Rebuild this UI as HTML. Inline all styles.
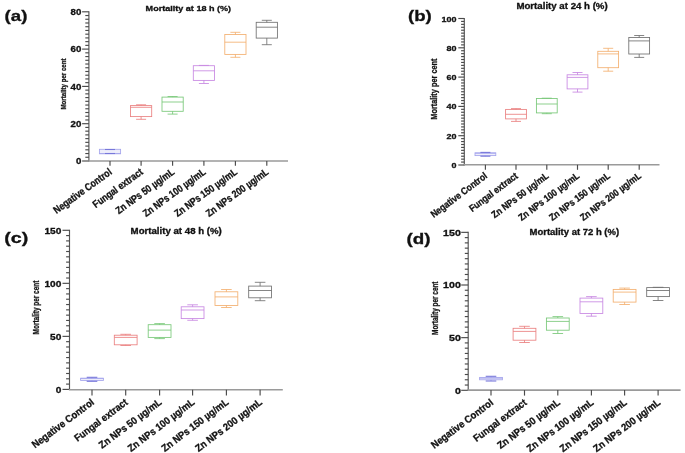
<!DOCTYPE html>
<html><head><meta charset="utf-8"><style>
html,body{margin:0;padding:0;background:#fff;width:685px;height:453px;overflow:hidden}
svg{display:block;filter:blur(0.35px)}
text{font-family:"Liberation Sans", sans-serif;stroke:#111;stroke-width:0.3px;paint-order:stroke}
</style></head><body>
<svg width="685" height="453" viewBox="0 0 685 453">
<rect width="685" height="453" fill="#fff"/>
<text x="4.60" y="21.40" font-size="15.00" text-anchor="start" font-weight="bold" fill="#111" textLength="22.80" lengthAdjust="spacingAndGlyphs">(a)</text>
<text x="145.60" y="11.40" font-size="7.80" text-anchor="start" font-weight="bold" fill="#111" textLength="85.50" lengthAdjust="spacingAndGlyphs">Mortality at 18 h (%)</text>
<line x1="88.90" y1="11.30" x2="88.90" y2="161.60" stroke="#555" stroke-width="1.15"/>
<line x1="82.10" y1="161.00" x2="88.90" y2="161.00" stroke="#4a4a4a" stroke-width="1.15"/>
<text x="81.40" y="164.19" font-size="8.40" text-anchor="end" font-weight="bold" fill="#111" textLength="5.40" lengthAdjust="spacingAndGlyphs">0</text>
<line x1="85.30" y1="157.27" x2="88.90" y2="157.27" stroke="#4a4a4a" stroke-width="1.15"/>
<line x1="85.30" y1="153.54" x2="88.90" y2="153.54" stroke="#4a4a4a" stroke-width="1.15"/>
<line x1="85.30" y1="149.81" x2="88.90" y2="149.81" stroke="#4a4a4a" stroke-width="1.15"/>
<line x1="85.30" y1="146.08" x2="88.90" y2="146.08" stroke="#4a4a4a" stroke-width="1.15"/>
<line x1="85.30" y1="142.35" x2="88.90" y2="142.35" stroke="#4a4a4a" stroke-width="1.15"/>
<line x1="85.30" y1="138.62" x2="88.90" y2="138.62" stroke="#4a4a4a" stroke-width="1.15"/>
<line x1="85.30" y1="134.89" x2="88.90" y2="134.89" stroke="#4a4a4a" stroke-width="1.15"/>
<line x1="85.30" y1="131.16" x2="88.90" y2="131.16" stroke="#4a4a4a" stroke-width="1.15"/>
<line x1="85.30" y1="127.43" x2="88.90" y2="127.43" stroke="#4a4a4a" stroke-width="1.15"/>
<line x1="82.10" y1="123.70" x2="88.90" y2="123.70" stroke="#4a4a4a" stroke-width="1.15"/>
<text x="81.40" y="126.89" font-size="8.40" text-anchor="end" font-weight="bold" fill="#111" textLength="10.80" lengthAdjust="spacingAndGlyphs">20</text>
<line x1="85.30" y1="119.97" x2="88.90" y2="119.97" stroke="#4a4a4a" stroke-width="1.15"/>
<line x1="85.30" y1="116.24" x2="88.90" y2="116.24" stroke="#4a4a4a" stroke-width="1.15"/>
<line x1="85.30" y1="112.51" x2="88.90" y2="112.51" stroke="#4a4a4a" stroke-width="1.15"/>
<line x1="85.30" y1="108.78" x2="88.90" y2="108.78" stroke="#4a4a4a" stroke-width="1.15"/>
<line x1="85.30" y1="105.05" x2="88.90" y2="105.05" stroke="#4a4a4a" stroke-width="1.15"/>
<line x1="85.30" y1="101.32" x2="88.90" y2="101.32" stroke="#4a4a4a" stroke-width="1.15"/>
<line x1="85.30" y1="97.59" x2="88.90" y2="97.59" stroke="#4a4a4a" stroke-width="1.15"/>
<line x1="85.30" y1="93.86" x2="88.90" y2="93.86" stroke="#4a4a4a" stroke-width="1.15"/>
<line x1="85.30" y1="90.13" x2="88.90" y2="90.13" stroke="#4a4a4a" stroke-width="1.15"/>
<line x1="82.10" y1="86.40" x2="88.90" y2="86.40" stroke="#4a4a4a" stroke-width="1.15"/>
<text x="81.40" y="89.59" font-size="8.40" text-anchor="end" font-weight="bold" fill="#111" textLength="10.80" lengthAdjust="spacingAndGlyphs">40</text>
<line x1="85.30" y1="82.67" x2="88.90" y2="82.67" stroke="#4a4a4a" stroke-width="1.15"/>
<line x1="85.30" y1="78.94" x2="88.90" y2="78.94" stroke="#4a4a4a" stroke-width="1.15"/>
<line x1="85.30" y1="75.21" x2="88.90" y2="75.21" stroke="#4a4a4a" stroke-width="1.15"/>
<line x1="85.30" y1="71.48" x2="88.90" y2="71.48" stroke="#4a4a4a" stroke-width="1.15"/>
<line x1="85.30" y1="67.75" x2="88.90" y2="67.75" stroke="#4a4a4a" stroke-width="1.15"/>
<line x1="85.30" y1="64.02" x2="88.90" y2="64.02" stroke="#4a4a4a" stroke-width="1.15"/>
<line x1="85.30" y1="60.29" x2="88.90" y2="60.29" stroke="#4a4a4a" stroke-width="1.15"/>
<line x1="85.30" y1="56.56" x2="88.90" y2="56.56" stroke="#4a4a4a" stroke-width="1.15"/>
<line x1="85.30" y1="52.83" x2="88.90" y2="52.83" stroke="#4a4a4a" stroke-width="1.15"/>
<line x1="82.10" y1="49.10" x2="88.90" y2="49.10" stroke="#4a4a4a" stroke-width="1.15"/>
<text x="81.40" y="52.29" font-size="8.40" text-anchor="end" font-weight="bold" fill="#111" textLength="10.80" lengthAdjust="spacingAndGlyphs">60</text>
<line x1="85.30" y1="45.37" x2="88.90" y2="45.37" stroke="#4a4a4a" stroke-width="1.15"/>
<line x1="85.30" y1="41.64" x2="88.90" y2="41.64" stroke="#4a4a4a" stroke-width="1.15"/>
<line x1="85.30" y1="37.91" x2="88.90" y2="37.91" stroke="#4a4a4a" stroke-width="1.15"/>
<line x1="85.30" y1="34.18" x2="88.90" y2="34.18" stroke="#4a4a4a" stroke-width="1.15"/>
<line x1="85.30" y1="30.45" x2="88.90" y2="30.45" stroke="#4a4a4a" stroke-width="1.15"/>
<line x1="85.30" y1="26.72" x2="88.90" y2="26.72" stroke="#4a4a4a" stroke-width="1.15"/>
<line x1="85.30" y1="22.99" x2="88.90" y2="22.99" stroke="#4a4a4a" stroke-width="1.15"/>
<line x1="85.30" y1="19.26" x2="88.90" y2="19.26" stroke="#4a4a4a" stroke-width="1.15"/>
<line x1="85.30" y1="15.53" x2="88.90" y2="15.53" stroke="#4a4a4a" stroke-width="1.15"/>
<line x1="82.10" y1="11.80" x2="88.90" y2="11.80" stroke="#4a4a4a" stroke-width="1.15"/>
<text x="81.40" y="14.99" font-size="8.40" text-anchor="end" font-weight="bold" fill="#111" textLength="10.80" lengthAdjust="spacingAndGlyphs">80</text>
<text x="65.90" y="109.50" font-size="7.60" text-anchor="start" font-weight="bold" fill="#111" textLength="51.00" lengthAdjust="spacingAndGlyphs" transform="rotate(-90 65.90 109.50)">Mortality per cent</text>
<line x1="88.30" y1="161.00" x2="288.00" y2="161.00" stroke="#9a9a9a" stroke-width="1.6"/>
<line x1="110.00" y1="161.00" x2="110.00" y2="165.80" stroke="#4a4a4a" stroke-width="1.15"/>
<text x="112.60" y="173.40" font-size="10.30" text-anchor="end" font-weight="bold" fill="#111" textLength="69.21" lengthAdjust="spacingAndGlyphs" transform="rotate(-36 112.60 173.40)">Negative Control</text>
<g stroke="#a4a4ec" stroke-width="0.85" fill="none"><rect x="99.40" y="149.30" width="21.20" height="4.50" fill="#eeeefa"/><line x1="99.40" y1="153.50" x2="120.60" y2="153.50"/><line x1="110.00" y1="149.50" x2="110.00" y2="149.30"/><line x1="110.00" y1="153.80" x2="110.00" y2="153.50"/><line x1="105.00" y1="149.50" x2="115.00" y2="149.50" stroke="#7878da" stroke-width="1.1"/><line x1="105.00" y1="153.50" x2="115.00" y2="153.50" stroke="#7878da" stroke-width="1.1"/></g>
<line x1="141.10" y1="161.00" x2="141.10" y2="165.80" stroke="#4a4a4a" stroke-width="1.15"/>
<text x="143.70" y="173.40" font-size="10.30" text-anchor="end" font-weight="bold" fill="#111" textLength="59.13" lengthAdjust="spacingAndGlyphs" transform="rotate(-36 143.70 173.40)">Fungal extract</text>
<g stroke="#ea8080" stroke-width="0.85" fill="none"><rect x="130.50" y="105.60" width="21.20" height="11.00" fill="none"/><line x1="130.50" y1="107.30" x2="151.70" y2="107.30"/><line x1="141.10" y1="104.80" x2="141.10" y2="105.60"/><line x1="141.10" y1="116.60" x2="141.10" y2="119.30"/><line x1="136.10" y1="104.80" x2="146.10" y2="104.80"/><line x1="136.10" y1="119.30" x2="146.10" y2="119.30"/></g>
<line x1="172.60" y1="161.00" x2="172.60" y2="165.80" stroke="#4a4a4a" stroke-width="1.15"/>
<text x="175.20" y="173.40" font-size="10.30" text-anchor="end" font-weight="bold" fill="#111" textLength="69.88" lengthAdjust="spacingAndGlyphs" transform="rotate(-36 175.20 173.40)">Zn NPs 50 µg/mL</text>
<g stroke="#78c878" stroke-width="0.85" fill="none"><rect x="162.00" y="97.10" width="21.20" height="14.20" fill="none"/><line x1="162.00" y1="102.00" x2="183.20" y2="102.00"/><line x1="172.60" y1="96.50" x2="172.60" y2="97.10"/><line x1="172.60" y1="111.30" x2="172.60" y2="114.10"/><line x1="167.60" y1="96.50" x2="177.60" y2="96.50"/><line x1="167.60" y1="114.10" x2="177.60" y2="114.10"/></g>
<line x1="203.90" y1="161.00" x2="203.90" y2="165.80" stroke="#4a4a4a" stroke-width="1.15"/>
<text x="206.50" y="173.40" font-size="10.30" text-anchor="end" font-weight="bold" fill="#111" textLength="74.69" lengthAdjust="spacingAndGlyphs" transform="rotate(-36 206.50 173.40)">Zn NPs 100 µg/mL</text>
<g stroke="#c888e2" stroke-width="0.85" fill="none"><rect x="193.30" y="65.70" width="21.20" height="14.70" fill="none"/><line x1="193.30" y1="70.80" x2="214.50" y2="70.80"/><line x1="203.90" y1="65.40" x2="203.90" y2="65.70"/><line x1="203.90" y1="80.40" x2="203.90" y2="83.50"/><line x1="198.90" y1="65.40" x2="208.90" y2="65.40"/><line x1="198.90" y1="83.50" x2="208.90" y2="83.50"/></g>
<line x1="235.40" y1="161.00" x2="235.40" y2="165.80" stroke="#4a4a4a" stroke-width="1.15"/>
<text x="238.00" y="173.40" font-size="10.30" text-anchor="end" font-weight="bold" fill="#111" textLength="74.69" lengthAdjust="spacingAndGlyphs" transform="rotate(-36 238.00 173.40)">Zn NPs 150 µg/mL</text>
<g stroke="#f3b070" stroke-width="0.85" fill="none"><rect x="224.80" y="34.50" width="21.20" height="19.90" fill="none"/><line x1="224.80" y1="42.20" x2="246.00" y2="42.20"/><line x1="235.40" y1="32.30" x2="235.40" y2="34.50"/><line x1="235.40" y1="54.40" x2="235.40" y2="57.30"/><line x1="230.40" y1="32.30" x2="240.40" y2="32.30"/><line x1="230.40" y1="57.30" x2="240.40" y2="57.30"/></g>
<line x1="266.80" y1="161.00" x2="266.80" y2="165.80" stroke="#4a4a4a" stroke-width="1.15"/>
<text x="269.40" y="173.40" font-size="10.30" text-anchor="end" font-weight="bold" fill="#111" textLength="74.69" lengthAdjust="spacingAndGlyphs" transform="rotate(-36 269.40 173.40)">Zn NPs 200 µg/mL</text>
<g stroke="#707070" stroke-width="0.85" fill="none"><rect x="256.20" y="22.30" width="21.20" height="15.80" fill="none"/><line x1="256.20" y1="27.20" x2="277.40" y2="27.20"/><line x1="266.80" y1="20.30" x2="266.80" y2="22.30"/><line x1="266.80" y1="38.10" x2="266.80" y2="44.70"/><line x1="261.80" y1="20.30" x2="271.80" y2="20.30"/><line x1="261.80" y1="44.70" x2="271.80" y2="44.70"/></g>
<text x="408.00" y="21.40" font-size="15.00" text-anchor="start" font-weight="bold" fill="#111" textLength="23.80" lengthAdjust="spacingAndGlyphs">(b)</text>
<text x="516.40" y="9.30" font-size="8.50" text-anchor="start" font-weight="bold" fill="#111" textLength="91.30" lengthAdjust="spacingAndGlyphs">Mortality at 24 h (%)</text>
<line x1="464.30" y1="18.00" x2="464.30" y2="165.60" stroke="#555" stroke-width="1.15"/>
<line x1="458.30" y1="165.00" x2="464.30" y2="165.00" stroke="#4a4a4a" stroke-width="1.15"/>
<text x="456.60" y="168.08" font-size="8.10" text-anchor="end" font-weight="bold" fill="#111" textLength="5.00" lengthAdjust="spacingAndGlyphs">0</text>
<line x1="461.10" y1="162.07" x2="464.30" y2="162.07" stroke="#4a4a4a" stroke-width="1.15"/>
<line x1="461.10" y1="159.14" x2="464.30" y2="159.14" stroke="#4a4a4a" stroke-width="1.15"/>
<line x1="461.10" y1="156.21" x2="464.30" y2="156.21" stroke="#4a4a4a" stroke-width="1.15"/>
<line x1="461.10" y1="153.28" x2="464.30" y2="153.28" stroke="#4a4a4a" stroke-width="1.15"/>
<line x1="461.10" y1="150.35" x2="464.30" y2="150.35" stroke="#4a4a4a" stroke-width="1.15"/>
<line x1="461.10" y1="147.42" x2="464.30" y2="147.42" stroke="#4a4a4a" stroke-width="1.15"/>
<line x1="461.10" y1="144.49" x2="464.30" y2="144.49" stroke="#4a4a4a" stroke-width="1.15"/>
<line x1="461.10" y1="141.56" x2="464.30" y2="141.56" stroke="#4a4a4a" stroke-width="1.15"/>
<line x1="461.10" y1="138.63" x2="464.30" y2="138.63" stroke="#4a4a4a" stroke-width="1.15"/>
<line x1="458.30" y1="135.70" x2="464.30" y2="135.70" stroke="#4a4a4a" stroke-width="1.15"/>
<text x="456.60" y="138.78" font-size="8.10" text-anchor="end" font-weight="bold" fill="#111" textLength="10.00" lengthAdjust="spacingAndGlyphs">20</text>
<line x1="461.10" y1="132.77" x2="464.30" y2="132.77" stroke="#4a4a4a" stroke-width="1.15"/>
<line x1="461.10" y1="129.84" x2="464.30" y2="129.84" stroke="#4a4a4a" stroke-width="1.15"/>
<line x1="461.10" y1="126.91" x2="464.30" y2="126.91" stroke="#4a4a4a" stroke-width="1.15"/>
<line x1="461.10" y1="123.98" x2="464.30" y2="123.98" stroke="#4a4a4a" stroke-width="1.15"/>
<line x1="461.10" y1="121.05" x2="464.30" y2="121.05" stroke="#4a4a4a" stroke-width="1.15"/>
<line x1="461.10" y1="118.12" x2="464.30" y2="118.12" stroke="#4a4a4a" stroke-width="1.15"/>
<line x1="461.10" y1="115.19" x2="464.30" y2="115.19" stroke="#4a4a4a" stroke-width="1.15"/>
<line x1="461.10" y1="112.26" x2="464.30" y2="112.26" stroke="#4a4a4a" stroke-width="1.15"/>
<line x1="461.10" y1="109.33" x2="464.30" y2="109.33" stroke="#4a4a4a" stroke-width="1.15"/>
<line x1="458.30" y1="106.40" x2="464.30" y2="106.40" stroke="#4a4a4a" stroke-width="1.15"/>
<text x="456.60" y="109.48" font-size="8.10" text-anchor="end" font-weight="bold" fill="#111" textLength="10.00" lengthAdjust="spacingAndGlyphs">40</text>
<line x1="461.10" y1="103.47" x2="464.30" y2="103.47" stroke="#4a4a4a" stroke-width="1.15"/>
<line x1="461.10" y1="100.54" x2="464.30" y2="100.54" stroke="#4a4a4a" stroke-width="1.15"/>
<line x1="461.10" y1="97.61" x2="464.30" y2="97.61" stroke="#4a4a4a" stroke-width="1.15"/>
<line x1="461.10" y1="94.68" x2="464.30" y2="94.68" stroke="#4a4a4a" stroke-width="1.15"/>
<line x1="461.10" y1="91.75" x2="464.30" y2="91.75" stroke="#4a4a4a" stroke-width="1.15"/>
<line x1="461.10" y1="88.82" x2="464.30" y2="88.82" stroke="#4a4a4a" stroke-width="1.15"/>
<line x1="461.10" y1="85.89" x2="464.30" y2="85.89" stroke="#4a4a4a" stroke-width="1.15"/>
<line x1="461.10" y1="82.96" x2="464.30" y2="82.96" stroke="#4a4a4a" stroke-width="1.15"/>
<line x1="461.10" y1="80.03" x2="464.30" y2="80.03" stroke="#4a4a4a" stroke-width="1.15"/>
<line x1="458.30" y1="77.10" x2="464.30" y2="77.10" stroke="#4a4a4a" stroke-width="1.15"/>
<text x="456.60" y="80.18" font-size="8.10" text-anchor="end" font-weight="bold" fill="#111" textLength="10.00" lengthAdjust="spacingAndGlyphs">60</text>
<line x1="461.10" y1="74.17" x2="464.30" y2="74.17" stroke="#4a4a4a" stroke-width="1.15"/>
<line x1="461.10" y1="71.24" x2="464.30" y2="71.24" stroke="#4a4a4a" stroke-width="1.15"/>
<line x1="461.10" y1="68.31" x2="464.30" y2="68.31" stroke="#4a4a4a" stroke-width="1.15"/>
<line x1="461.10" y1="65.38" x2="464.30" y2="65.38" stroke="#4a4a4a" stroke-width="1.15"/>
<line x1="461.10" y1="62.45" x2="464.30" y2="62.45" stroke="#4a4a4a" stroke-width="1.15"/>
<line x1="461.10" y1="59.52" x2="464.30" y2="59.52" stroke="#4a4a4a" stroke-width="1.15"/>
<line x1="461.10" y1="56.59" x2="464.30" y2="56.59" stroke="#4a4a4a" stroke-width="1.15"/>
<line x1="461.10" y1="53.66" x2="464.30" y2="53.66" stroke="#4a4a4a" stroke-width="1.15"/>
<line x1="461.10" y1="50.73" x2="464.30" y2="50.73" stroke="#4a4a4a" stroke-width="1.15"/>
<line x1="458.30" y1="47.80" x2="464.30" y2="47.80" stroke="#4a4a4a" stroke-width="1.15"/>
<text x="456.60" y="50.88" font-size="8.10" text-anchor="end" font-weight="bold" fill="#111" textLength="10.00" lengthAdjust="spacingAndGlyphs">80</text>
<line x1="461.10" y1="44.87" x2="464.30" y2="44.87" stroke="#4a4a4a" stroke-width="1.15"/>
<line x1="461.10" y1="41.94" x2="464.30" y2="41.94" stroke="#4a4a4a" stroke-width="1.15"/>
<line x1="461.10" y1="39.01" x2="464.30" y2="39.01" stroke="#4a4a4a" stroke-width="1.15"/>
<line x1="461.10" y1="36.08" x2="464.30" y2="36.08" stroke="#4a4a4a" stroke-width="1.15"/>
<line x1="461.10" y1="33.15" x2="464.30" y2="33.15" stroke="#4a4a4a" stroke-width="1.15"/>
<line x1="461.10" y1="30.22" x2="464.30" y2="30.22" stroke="#4a4a4a" stroke-width="1.15"/>
<line x1="461.10" y1="27.29" x2="464.30" y2="27.29" stroke="#4a4a4a" stroke-width="1.15"/>
<line x1="461.10" y1="24.36" x2="464.30" y2="24.36" stroke="#4a4a4a" stroke-width="1.15"/>
<line x1="461.10" y1="21.43" x2="464.30" y2="21.43" stroke="#4a4a4a" stroke-width="1.15"/>
<line x1="458.30" y1="18.50" x2="464.30" y2="18.50" stroke="#4a4a4a" stroke-width="1.15"/>
<text x="456.60" y="21.58" font-size="8.10" text-anchor="end" font-weight="bold" fill="#111" textLength="15.00" lengthAdjust="spacingAndGlyphs">100</text>
<text x="436.70" y="119.70" font-size="9.60" text-anchor="start" font-weight="bold" fill="#111" textLength="61.20" lengthAdjust="spacingAndGlyphs" transform="rotate(-90 436.70 119.70)">Mortality per cent</text>
<line x1="463.70" y1="164.80" x2="659.50" y2="164.80" stroke="#9a9a9a" stroke-width="1.6"/>
<line x1="485.40" y1="164.80" x2="485.40" y2="169.80" stroke="#4a4a4a" stroke-width="1.15"/>
<text x="488.00" y="177.20" font-size="9.70" text-anchor="end" font-weight="bold" fill="#111" textLength="68.01" lengthAdjust="spacingAndGlyphs" transform="rotate(-37 488.00 177.20)">Negative Control</text>
<g stroke="#a4a4ec" stroke-width="0.85" fill="none"><rect x="475.00" y="152.80" width="20.80" height="2.80" fill="#eeeefa"/><line x1="475.00" y1="153.30" x2="495.80" y2="153.30"/><line x1="485.40" y1="152.40" x2="485.40" y2="152.80"/><line x1="485.40" y1="155.60" x2="485.40" y2="156.20"/><line x1="480.40" y1="152.40" x2="490.40" y2="152.40" stroke="#7878da" stroke-width="1.1"/><line x1="480.40" y1="156.20" x2="490.40" y2="156.20" stroke="#7878da" stroke-width="1.1"/></g>
<line x1="516.00" y1="164.80" x2="516.00" y2="169.80" stroke="#4a4a4a" stroke-width="1.15"/>
<text x="518.60" y="177.20" font-size="9.70" text-anchor="end" font-weight="bold" fill="#111" textLength="58.11" lengthAdjust="spacingAndGlyphs" transform="rotate(-37 518.60 177.20)">Fungal extract</text>
<g stroke="#ea8080" stroke-width="0.85" fill="none"><rect x="505.60" y="109.40" width="20.80" height="9.50" fill="none"/><line x1="505.60" y1="114.30" x2="526.40" y2="114.30"/><line x1="516.00" y1="108.60" x2="516.00" y2="109.40"/><line x1="516.00" y1="118.90" x2="516.00" y2="121.40"/><line x1="511.00" y1="108.60" x2="521.00" y2="108.60"/><line x1="511.00" y1="121.40" x2="521.00" y2="121.40"/></g>
<line x1="546.80" y1="164.80" x2="546.80" y2="169.80" stroke="#4a4a4a" stroke-width="1.15"/>
<text x="549.40" y="177.20" font-size="9.70" text-anchor="end" font-weight="bold" fill="#111" textLength="68.66" lengthAdjust="spacingAndGlyphs" transform="rotate(-37 549.40 177.20)">Zn NPs 50 µg/mL</text>
<g stroke="#78c878" stroke-width="0.85" fill="none"><rect x="536.40" y="98.50" width="20.80" height="14.40" fill="none"/><line x1="536.40" y1="104.00" x2="557.20" y2="104.00"/><line x1="546.80" y1="98.20" x2="546.80" y2="98.50"/><line x1="546.80" y1="112.90" x2="546.80" y2="113.70"/><line x1="541.80" y1="98.20" x2="551.80" y2="98.20"/><line x1="541.80" y1="113.70" x2="551.80" y2="113.70"/></g>
<line x1="577.50" y1="164.80" x2="577.50" y2="169.80" stroke="#4a4a4a" stroke-width="1.15"/>
<text x="580.10" y="177.20" font-size="9.70" text-anchor="end" font-weight="bold" fill="#111" textLength="73.39" lengthAdjust="spacingAndGlyphs" transform="rotate(-37 580.10 177.20)">Zn NPs 100 µg/mL</text>
<g stroke="#c888e2" stroke-width="0.85" fill="none"><rect x="567.10" y="74.80" width="20.80" height="14.10" fill="none"/><line x1="567.10" y1="77.40" x2="587.90" y2="77.40"/><line x1="577.50" y1="72.50" x2="577.50" y2="74.80"/><line x1="577.50" y1="88.90" x2="577.50" y2="92.10"/><line x1="572.50" y1="72.50" x2="582.50" y2="72.50"/><line x1="572.50" y1="92.10" x2="582.50" y2="92.10"/></g>
<line x1="608.20" y1="164.80" x2="608.20" y2="169.80" stroke="#4a4a4a" stroke-width="1.15"/>
<text x="610.80" y="177.20" font-size="9.70" text-anchor="end" font-weight="bold" fill="#111" textLength="73.39" lengthAdjust="spacingAndGlyphs" transform="rotate(-37 610.80 177.20)">Zn NPs 150 µg/mL</text>
<g stroke="#f3b070" stroke-width="0.85" fill="none"><rect x="597.80" y="51.30" width="20.80" height="16.40" fill="none"/><line x1="597.80" y1="53.90" x2="618.60" y2="53.90"/><line x1="608.20" y1="48.30" x2="608.20" y2="51.30"/><line x1="608.20" y1="67.70" x2="608.20" y2="71.20"/><line x1="603.20" y1="48.30" x2="613.20" y2="48.30"/><line x1="603.20" y1="71.20" x2="613.20" y2="71.20"/></g>
<line x1="639.20" y1="164.80" x2="639.20" y2="169.80" stroke="#4a4a4a" stroke-width="1.15"/>
<text x="641.80" y="177.20" font-size="9.70" text-anchor="end" font-weight="bold" fill="#111" textLength="73.39" lengthAdjust="spacingAndGlyphs" transform="rotate(-37 641.80 177.20)">Zn NPs 200 µg/mL</text>
<g stroke="#707070" stroke-width="0.85" fill="none"><rect x="628.80" y="37.50" width="20.80" height="16.50" fill="none"/><line x1="628.80" y1="40.90" x2="649.60" y2="40.90"/><line x1="639.20" y1="35.50" x2="639.20" y2="37.50"/><line x1="639.20" y1="54.00" x2="639.20" y2="57.40"/><line x1="634.20" y1="35.50" x2="644.20" y2="35.50"/><line x1="634.20" y1="57.40" x2="644.20" y2="57.40"/></g>
<text x="4.20" y="243.20" font-size="15.00" text-anchor="start" font-weight="bold" fill="#111" textLength="24.00" lengthAdjust="spacingAndGlyphs">(c)</text>
<text x="130.60" y="233.60" font-size="8.30" text-anchor="start" font-weight="bold" fill="#111" textLength="91.20" lengthAdjust="spacingAndGlyphs">Mortality at 48 h (%)</text>
<line x1="69.50" y1="229.79" x2="69.50" y2="390.00" stroke="#555" stroke-width="1.15"/>
<line x1="62.50" y1="389.40" x2="69.50" y2="389.40" stroke="#4a4a4a" stroke-width="1.15"/>
<text x="61.40" y="392.71" font-size="8.70" text-anchor="end" font-weight="bold" fill="#111" textLength="5.65" lengthAdjust="spacingAndGlyphs">0</text>
<line x1="66.10" y1="384.10" x2="69.50" y2="384.10" stroke="#4a4a4a" stroke-width="1.15"/>
<line x1="66.10" y1="378.79" x2="69.50" y2="378.79" stroke="#4a4a4a" stroke-width="1.15"/>
<line x1="66.10" y1="373.49" x2="69.50" y2="373.49" stroke="#4a4a4a" stroke-width="1.15"/>
<line x1="66.10" y1="368.19" x2="69.50" y2="368.19" stroke="#4a4a4a" stroke-width="1.15"/>
<line x1="66.10" y1="362.88" x2="69.50" y2="362.88" stroke="#4a4a4a" stroke-width="1.15"/>
<line x1="66.10" y1="357.58" x2="69.50" y2="357.58" stroke="#4a4a4a" stroke-width="1.15"/>
<line x1="66.10" y1="352.28" x2="69.50" y2="352.28" stroke="#4a4a4a" stroke-width="1.15"/>
<line x1="66.10" y1="346.97" x2="69.50" y2="346.97" stroke="#4a4a4a" stroke-width="1.15"/>
<line x1="66.10" y1="341.67" x2="69.50" y2="341.67" stroke="#4a4a4a" stroke-width="1.15"/>
<line x1="62.50" y1="336.37" x2="69.50" y2="336.37" stroke="#4a4a4a" stroke-width="1.15"/>
<text x="61.40" y="339.67" font-size="8.70" text-anchor="end" font-weight="bold" fill="#111" textLength="11.30" lengthAdjust="spacingAndGlyphs">50</text>
<line x1="66.10" y1="331.06" x2="69.50" y2="331.06" stroke="#4a4a4a" stroke-width="1.15"/>
<line x1="66.10" y1="325.76" x2="69.50" y2="325.76" stroke="#4a4a4a" stroke-width="1.15"/>
<line x1="66.10" y1="320.45" x2="69.50" y2="320.45" stroke="#4a4a4a" stroke-width="1.15"/>
<line x1="66.10" y1="315.15" x2="69.50" y2="315.15" stroke="#4a4a4a" stroke-width="1.15"/>
<line x1="66.10" y1="309.85" x2="69.50" y2="309.85" stroke="#4a4a4a" stroke-width="1.15"/>
<line x1="66.10" y1="304.54" x2="69.50" y2="304.54" stroke="#4a4a4a" stroke-width="1.15"/>
<line x1="66.10" y1="299.24" x2="69.50" y2="299.24" stroke="#4a4a4a" stroke-width="1.15"/>
<line x1="66.10" y1="293.94" x2="69.50" y2="293.94" stroke="#4a4a4a" stroke-width="1.15"/>
<line x1="66.10" y1="288.63" x2="69.50" y2="288.63" stroke="#4a4a4a" stroke-width="1.15"/>
<line x1="62.50" y1="283.33" x2="69.50" y2="283.33" stroke="#4a4a4a" stroke-width="1.15"/>
<text x="61.40" y="286.64" font-size="8.70" text-anchor="end" font-weight="bold" fill="#111" textLength="16.95" lengthAdjust="spacingAndGlyphs">100</text>
<line x1="66.10" y1="278.03" x2="69.50" y2="278.03" stroke="#4a4a4a" stroke-width="1.15"/>
<line x1="66.10" y1="272.72" x2="69.50" y2="272.72" stroke="#4a4a4a" stroke-width="1.15"/>
<line x1="66.10" y1="267.42" x2="69.50" y2="267.42" stroke="#4a4a4a" stroke-width="1.15"/>
<line x1="66.10" y1="262.12" x2="69.50" y2="262.12" stroke="#4a4a4a" stroke-width="1.15"/>
<line x1="66.10" y1="256.81" x2="69.50" y2="256.81" stroke="#4a4a4a" stroke-width="1.15"/>
<line x1="66.10" y1="251.51" x2="69.50" y2="251.51" stroke="#4a4a4a" stroke-width="1.15"/>
<line x1="66.10" y1="246.21" x2="69.50" y2="246.21" stroke="#4a4a4a" stroke-width="1.15"/>
<line x1="66.10" y1="240.90" x2="69.50" y2="240.90" stroke="#4a4a4a" stroke-width="1.15"/>
<line x1="66.10" y1="235.60" x2="69.50" y2="235.60" stroke="#4a4a4a" stroke-width="1.15"/>
<line x1="62.50" y1="230.29" x2="69.50" y2="230.29" stroke="#4a4a4a" stroke-width="1.15"/>
<text x="61.40" y="233.60" font-size="8.70" text-anchor="end" font-weight="bold" fill="#111" textLength="16.95" lengthAdjust="spacingAndGlyphs">150</text>
<text x="39.10" y="334.40" font-size="9.00" text-anchor="start" font-weight="bold" fill="#111" textLength="53.80" lengthAdjust="spacingAndGlyphs" transform="rotate(-90 39.10 334.40)">Mortality per cent</text>
<line x1="68.90" y1="389.80" x2="282.80" y2="389.80" stroke="#9a9a9a" stroke-width="1.6"/>
<line x1="92.00" y1="389.80" x2="92.00" y2="395.40" stroke="#4a4a4a" stroke-width="1.15"/>
<text x="94.80" y="403.60" font-size="10.20" text-anchor="end" font-weight="bold" fill="#111" textLength="74.81" lengthAdjust="spacingAndGlyphs" transform="rotate(-37 94.80 403.60)">Negative Control</text>
<g stroke="#a4a4ec" stroke-width="0.85" fill="none"><rect x="80.60" y="378.30" width="22.80" height="2.10" fill="#eeeefa"/><line x1="80.60" y1="378.30" x2="103.40" y2="378.30"/><line x1="92.00" y1="377.30" x2="92.00" y2="378.30"/><line x1="92.00" y1="380.40" x2="92.00" y2="381.30"/><line x1="86.70" y1="377.30" x2="97.30" y2="377.30" stroke="#7878da" stroke-width="1.1"/><line x1="86.70" y1="381.30" x2="97.30" y2="381.30" stroke="#7878da" stroke-width="1.1"/></g>
<line x1="125.70" y1="389.80" x2="125.70" y2="395.40" stroke="#4a4a4a" stroke-width="1.15"/>
<text x="128.50" y="403.60" font-size="10.20" text-anchor="end" font-weight="bold" fill="#111" textLength="63.92" lengthAdjust="spacingAndGlyphs" transform="rotate(-37 128.50 403.60)">Fungal extract</text>
<g stroke="#ea8080" stroke-width="0.85" fill="none"><rect x="114.30" y="335.20" width="22.80" height="9.60" fill="none"/><line x1="114.30" y1="337.40" x2="137.10" y2="337.40"/><line x1="125.70" y1="334.30" x2="125.70" y2="335.20"/><line x1="125.70" y1="344.80" x2="125.70" y2="345.50"/><line x1="120.40" y1="334.30" x2="131.00" y2="334.30"/><line x1="120.40" y1="345.50" x2="131.00" y2="345.50"/></g>
<line x1="159.60" y1="389.80" x2="159.60" y2="395.40" stroke="#4a4a4a" stroke-width="1.15"/>
<text x="162.40" y="403.60" font-size="10.20" text-anchor="end" font-weight="bold" fill="#111" textLength="75.53" lengthAdjust="spacingAndGlyphs" transform="rotate(-37 162.40 403.60)">Zn NPs 50 µg/mL</text>
<g stroke="#78c878" stroke-width="0.85" fill="none"><rect x="148.20" y="324.70" width="22.80" height="12.70" fill="none"/><line x1="148.20" y1="330.10" x2="171.00" y2="330.10"/><line x1="159.60" y1="323.60" x2="159.60" y2="324.70"/><line x1="159.60" y1="337.40" x2="159.60" y2="338.60"/><line x1="154.30" y1="323.60" x2="164.90" y2="323.60"/><line x1="154.30" y1="338.60" x2="164.90" y2="338.60"/></g>
<line x1="192.60" y1="389.80" x2="192.60" y2="395.40" stroke="#4a4a4a" stroke-width="1.15"/>
<text x="195.40" y="403.60" font-size="10.20" text-anchor="end" font-weight="bold" fill="#111" textLength="80.73" lengthAdjust="spacingAndGlyphs" transform="rotate(-37 195.40 403.60)">Zn NPs 100 µg/mL</text>
<g stroke="#c888e2" stroke-width="0.85" fill="none"><rect x="181.20" y="306.80" width="22.80" height="11.80" fill="none"/><line x1="181.20" y1="310.00" x2="204.00" y2="310.00"/><line x1="192.60" y1="304.80" x2="192.60" y2="306.80"/><line x1="192.60" y1="318.60" x2="192.60" y2="320.30"/><line x1="187.30" y1="304.80" x2="197.90" y2="304.80"/><line x1="187.30" y1="320.30" x2="197.90" y2="320.30"/></g>
<line x1="226.40" y1="389.80" x2="226.40" y2="395.40" stroke="#4a4a4a" stroke-width="1.15"/>
<text x="229.20" y="403.60" font-size="10.20" text-anchor="end" font-weight="bold" fill="#111" textLength="80.73" lengthAdjust="spacingAndGlyphs" transform="rotate(-37 229.20 403.60)">Zn NPs 150 µg/mL</text>
<g stroke="#f3b070" stroke-width="0.85" fill="none"><rect x="215.00" y="291.80" width="22.80" height="13.70" fill="none"/><line x1="215.00" y1="296.90" x2="237.80" y2="296.90"/><line x1="226.40" y1="289.50" x2="226.40" y2="291.80"/><line x1="226.40" y1="305.50" x2="226.40" y2="307.50"/><line x1="221.10" y1="289.50" x2="231.70" y2="289.50"/><line x1="221.10" y1="307.50" x2="231.70" y2="307.50"/></g>
<line x1="260.10" y1="389.80" x2="260.10" y2="395.40" stroke="#4a4a4a" stroke-width="1.15"/>
<text x="262.90" y="403.60" font-size="10.20" text-anchor="end" font-weight="bold" fill="#111" textLength="80.73" lengthAdjust="spacingAndGlyphs" transform="rotate(-37 262.90 403.60)">Zn NPs 200 µg/mL</text>
<g stroke="#707070" stroke-width="0.85" fill="none"><rect x="248.70" y="286.10" width="22.80" height="11.70" fill="none"/><line x1="248.70" y1="290.50" x2="271.50" y2="290.50"/><line x1="260.10" y1="282.30" x2="260.10" y2="286.10"/><line x1="260.10" y1="297.80" x2="260.10" y2="300.70"/><line x1="254.80" y1="282.30" x2="265.40" y2="282.30"/><line x1="254.80" y1="300.70" x2="265.40" y2="300.70"/></g>
<text x="406.50" y="243.80" font-size="15.00" text-anchor="start" font-weight="bold" fill="#111" textLength="24.00" lengthAdjust="spacingAndGlyphs">(d)</text>
<text x="529.50" y="235.20" font-size="8.30" text-anchor="start" font-weight="bold" fill="#111" textLength="89.60" lengthAdjust="spacingAndGlyphs">Mortality at 72 h (%)</text>
<line x1="468.20" y1="231.85" x2="468.20" y2="390.90" stroke="#555" stroke-width="1.15"/>
<line x1="461.20" y1="390.30" x2="468.20" y2="390.30" stroke="#4a4a4a" stroke-width="1.15"/>
<text x="460.80" y="393.61" font-size="8.70" text-anchor="end" font-weight="bold" fill="#111" textLength="5.90" lengthAdjust="spacingAndGlyphs">0</text>
<line x1="464.80" y1="385.04" x2="468.20" y2="385.04" stroke="#4a4a4a" stroke-width="1.15"/>
<line x1="464.80" y1="379.77" x2="468.20" y2="379.77" stroke="#4a4a4a" stroke-width="1.15"/>
<line x1="464.80" y1="374.50" x2="468.20" y2="374.50" stroke="#4a4a4a" stroke-width="1.15"/>
<line x1="464.80" y1="369.24" x2="468.20" y2="369.24" stroke="#4a4a4a" stroke-width="1.15"/>
<line x1="464.80" y1="363.98" x2="468.20" y2="363.98" stroke="#4a4a4a" stroke-width="1.15"/>
<line x1="464.80" y1="358.71" x2="468.20" y2="358.71" stroke="#4a4a4a" stroke-width="1.15"/>
<line x1="464.80" y1="353.44" x2="468.20" y2="353.44" stroke="#4a4a4a" stroke-width="1.15"/>
<line x1="464.80" y1="348.18" x2="468.20" y2="348.18" stroke="#4a4a4a" stroke-width="1.15"/>
<line x1="464.80" y1="342.92" x2="468.20" y2="342.92" stroke="#4a4a4a" stroke-width="1.15"/>
<line x1="461.20" y1="337.65" x2="468.20" y2="337.65" stroke="#4a4a4a" stroke-width="1.15"/>
<text x="460.80" y="340.96" font-size="8.70" text-anchor="end" font-weight="bold" fill="#111" textLength="11.80" lengthAdjust="spacingAndGlyphs">50</text>
<line x1="464.80" y1="332.38" x2="468.20" y2="332.38" stroke="#4a4a4a" stroke-width="1.15"/>
<line x1="464.80" y1="327.12" x2="468.20" y2="327.12" stroke="#4a4a4a" stroke-width="1.15"/>
<line x1="464.80" y1="321.86" x2="468.20" y2="321.86" stroke="#4a4a4a" stroke-width="1.15"/>
<line x1="464.80" y1="316.59" x2="468.20" y2="316.59" stroke="#4a4a4a" stroke-width="1.15"/>
<line x1="464.80" y1="311.33" x2="468.20" y2="311.33" stroke="#4a4a4a" stroke-width="1.15"/>
<line x1="464.80" y1="306.06" x2="468.20" y2="306.06" stroke="#4a4a4a" stroke-width="1.15"/>
<line x1="464.80" y1="300.80" x2="468.20" y2="300.80" stroke="#4a4a4a" stroke-width="1.15"/>
<line x1="464.80" y1="295.53" x2="468.20" y2="295.53" stroke="#4a4a4a" stroke-width="1.15"/>
<line x1="464.80" y1="290.26" x2="468.20" y2="290.26" stroke="#4a4a4a" stroke-width="1.15"/>
<line x1="461.20" y1="285.00" x2="468.20" y2="285.00" stroke="#4a4a4a" stroke-width="1.15"/>
<text x="460.80" y="288.31" font-size="8.70" text-anchor="end" font-weight="bold" fill="#111" textLength="17.70" lengthAdjust="spacingAndGlyphs">100</text>
<line x1="464.80" y1="279.74" x2="468.20" y2="279.74" stroke="#4a4a4a" stroke-width="1.15"/>
<line x1="464.80" y1="274.47" x2="468.20" y2="274.47" stroke="#4a4a4a" stroke-width="1.15"/>
<line x1="464.80" y1="269.21" x2="468.20" y2="269.21" stroke="#4a4a4a" stroke-width="1.15"/>
<line x1="464.80" y1="263.94" x2="468.20" y2="263.94" stroke="#4a4a4a" stroke-width="1.15"/>
<line x1="464.80" y1="258.68" x2="468.20" y2="258.68" stroke="#4a4a4a" stroke-width="1.15"/>
<line x1="464.80" y1="253.41" x2="468.20" y2="253.41" stroke="#4a4a4a" stroke-width="1.15"/>
<line x1="464.80" y1="248.15" x2="468.20" y2="248.15" stroke="#4a4a4a" stroke-width="1.15"/>
<line x1="464.80" y1="242.88" x2="468.20" y2="242.88" stroke="#4a4a4a" stroke-width="1.15"/>
<line x1="464.80" y1="237.62" x2="468.20" y2="237.62" stroke="#4a4a4a" stroke-width="1.15"/>
<line x1="461.20" y1="232.35" x2="468.20" y2="232.35" stroke="#4a4a4a" stroke-width="1.15"/>
<text x="460.80" y="235.66" font-size="8.70" text-anchor="end" font-weight="bold" fill="#111" textLength="17.70" lengthAdjust="spacingAndGlyphs">150</text>
<text x="438.30" y="334.90" font-size="9.00" text-anchor="start" font-weight="bold" fill="#111" textLength="53.40" lengthAdjust="spacingAndGlyphs" transform="rotate(-90 438.30 334.90)">Mortality per cent</text>
<line x1="467.60" y1="390.10" x2="680.60" y2="390.10" stroke="#9a9a9a" stroke-width="1.6"/>
<line x1="491.00" y1="390.10" x2="491.00" y2="395.60" stroke="#4a4a4a" stroke-width="1.15"/>
<text x="494.00" y="403.90" font-size="10.20" text-anchor="end" font-weight="bold" fill="#111" textLength="74.81" lengthAdjust="spacingAndGlyphs" transform="rotate(-37 494.00 403.90)">Negative Control</text>
<g stroke="#a4a4ec" stroke-width="0.85" fill="none"><rect x="479.60" y="377.40" width="22.80" height="2.40" fill="#eeeefa"/><line x1="479.60" y1="378.20" x2="502.40" y2="378.20"/><line x1="491.00" y1="376.30" x2="491.00" y2="377.40"/><line x1="491.00" y1="379.80" x2="491.00" y2="381.00"/><line x1="485.70" y1="376.30" x2="496.30" y2="376.30" stroke="#7878da" stroke-width="1.1"/><line x1="485.70" y1="381.00" x2="496.30" y2="381.00" stroke="#7878da" stroke-width="1.1"/></g>
<line x1="524.50" y1="390.10" x2="524.50" y2="395.60" stroke="#4a4a4a" stroke-width="1.15"/>
<text x="527.50" y="403.90" font-size="10.20" text-anchor="end" font-weight="bold" fill="#111" textLength="63.92" lengthAdjust="spacingAndGlyphs" transform="rotate(-37 527.50 403.90)">Fungal extract</text>
<g stroke="#ea8080" stroke-width="0.85" fill="none"><rect x="513.10" y="328.30" width="22.80" height="11.90" fill="none"/><line x1="513.10" y1="331.40" x2="535.90" y2="331.40"/><line x1="524.50" y1="326.30" x2="524.50" y2="328.30"/><line x1="524.50" y1="340.20" x2="524.50" y2="342.50"/><line x1="519.20" y1="326.30" x2="529.80" y2="326.30"/><line x1="519.20" y1="342.50" x2="529.80" y2="342.50"/></g>
<line x1="557.80" y1="390.10" x2="557.80" y2="395.60" stroke="#4a4a4a" stroke-width="1.15"/>
<text x="560.80" y="403.90" font-size="10.20" text-anchor="end" font-weight="bold" fill="#111" textLength="75.53" lengthAdjust="spacingAndGlyphs" transform="rotate(-37 560.80 403.90)">Zn NPs 50 µg/mL</text>
<g stroke="#78c878" stroke-width="0.85" fill="none"><rect x="546.40" y="318.00" width="22.80" height="12.20" fill="none"/><line x1="546.40" y1="321.40" x2="569.20" y2="321.40"/><line x1="557.80" y1="316.60" x2="557.80" y2="318.00"/><line x1="557.80" y1="330.20" x2="557.80" y2="333.50"/><line x1="552.50" y1="316.60" x2="563.10" y2="316.60"/><line x1="552.50" y1="333.50" x2="563.10" y2="333.50"/></g>
<line x1="591.40" y1="390.10" x2="591.40" y2="395.60" stroke="#4a4a4a" stroke-width="1.15"/>
<text x="594.40" y="403.90" font-size="10.20" text-anchor="end" font-weight="bold" fill="#111" textLength="80.73" lengthAdjust="spacingAndGlyphs" transform="rotate(-37 594.40 403.90)">Zn NPs 100 µg/mL</text>
<g stroke="#c888e2" stroke-width="0.85" fill="none"><rect x="580.00" y="298.10" width="22.80" height="15.40" fill="none"/><line x1="580.00" y1="301.80" x2="602.80" y2="301.80"/><line x1="591.40" y1="296.60" x2="591.40" y2="298.10"/><line x1="591.40" y1="313.50" x2="591.40" y2="316.20"/><line x1="586.10" y1="296.60" x2="596.70" y2="296.60"/><line x1="586.10" y1="316.20" x2="596.70" y2="316.20"/></g>
<line x1="624.60" y1="390.10" x2="624.60" y2="395.60" stroke="#4a4a4a" stroke-width="1.15"/>
<text x="627.60" y="403.90" font-size="10.20" text-anchor="end" font-weight="bold" fill="#111" textLength="80.73" lengthAdjust="spacingAndGlyphs" transform="rotate(-37 627.60 403.90)">Zn NPs 150 µg/mL</text>
<g stroke="#f3b070" stroke-width="0.85" fill="none"><rect x="613.20" y="289.40" width="22.80" height="12.70" fill="none"/><line x1="613.20" y1="292.10" x2="636.00" y2="292.10"/><line x1="624.60" y1="288.10" x2="624.60" y2="289.40"/><line x1="624.60" y1="302.10" x2="624.60" y2="304.50"/><line x1="619.30" y1="288.10" x2="629.90" y2="288.10"/><line x1="619.30" y1="304.50" x2="629.90" y2="304.50"/></g>
<line x1="658.10" y1="390.10" x2="658.10" y2="395.60" stroke="#4a4a4a" stroke-width="1.15"/>
<text x="661.10" y="403.90" font-size="10.20" text-anchor="end" font-weight="bold" fill="#111" textLength="80.73" lengthAdjust="spacingAndGlyphs" transform="rotate(-37 661.10 403.90)">Zn NPs 200 µg/mL</text>
<g stroke="#707070" stroke-width="0.85" fill="none"><rect x="646.70" y="287.60" width="22.80" height="9.00" fill="none"/><line x1="646.70" y1="290.50" x2="669.50" y2="290.50"/><line x1="658.10" y1="287.30" x2="658.10" y2="287.60"/><line x1="658.10" y1="296.60" x2="658.10" y2="300.50"/><line x1="652.80" y1="287.30" x2="663.40" y2="287.30"/><line x1="652.80" y1="300.50" x2="663.40" y2="300.50"/></g>
</svg></body></html>
